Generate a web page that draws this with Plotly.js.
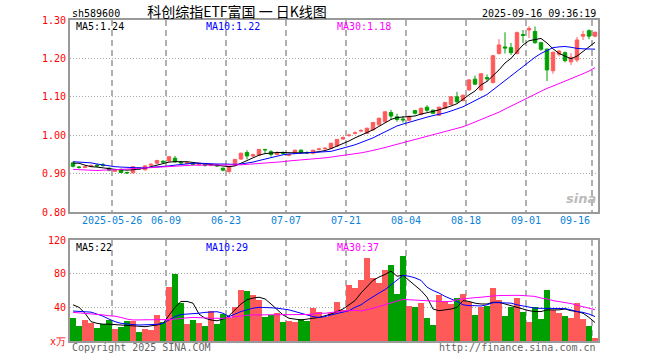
<!DOCTYPE html>
<html>
<head>
<meta charset="utf-8">
<script src="https://cdn.plot.ly/plotly-3.0.1.min.js"></script>
<style>
html,body{margin:0;padding:0;background:#fff;}
#chart{width:660px;height:360px;}
</style>
</head>
<body>
<div id="chart"></div>
<script>
const dates = [
'2025-05-15','2025-05-16','2025-05-19','2025-05-20','2025-05-21','2025-05-22','2025-05-23','2025-05-26','2025-05-27','2025-05-28','2025-05-29','2025-05-30',
'2025-06-03','2025-06-04','2025-06-05','2025-06-06','2025-06-09','2025-06-10','2025-06-11','2025-06-12','2025-06-13','2025-06-16','2025-06-17','2025-06-18','2025-06-19','2025-06-20','2025-06-23','2025-06-24','2025-06-25','2025-06-26','2025-06-27','2025-06-30',
'2025-07-01','2025-07-02','2025-07-03','2025-07-04','2025-07-07','2025-07-08','2025-07-09','2025-07-10','2025-07-11','2025-07-14','2025-07-15','2025-07-16','2025-07-17','2025-07-18','2025-07-21','2025-07-22','2025-07-23','2025-07-24','2025-07-25','2025-07-28','2025-07-29','2025-07-30','2025-07-31',
'2025-08-01','2025-08-04','2025-08-05','2025-08-06','2025-08-07','2025-08-08','2025-08-11','2025-08-12','2025-08-13','2025-08-14','2025-08-15','2025-08-18','2025-08-19','2025-08-20','2025-08-21','2025-08-22','2025-08-25','2025-08-26','2025-08-27','2025-08-28','2025-08-29',
'2025-09-01','2025-09-02','2025-09-03','2025-09-04','2025-09-05','2025-09-08','2025-09-09','2025-09-10','2025-09-11','2025-09-12','2025-09-15','2025-09-16'
];
const openP = [0.928,0.917,0.916,0.919,0.922,0.923,0.914,0.906,0.911,0.903,0.902,0.915,0.910,0.922,0.927,0.932,0.933,0.940,0.930,0.926,0.927,0.923,0.924,0.921,0.923,0.914,0.905,0.922,0.938,0.955,0.946,0.948,
0.963,0.957,0.950,0.954,0.948,0.953,0.961,0.955,0.953,0.963,0.965,0.966,0.972,0.990,0.999,1.005,1.011,1.005,1.014,1.027,1.035,1.059,1.048,
1.042,1.039,1.064,1.054,1.073,1.065,1.052,1.070,1.080,1.100,1.090,1.118,1.146,1.118,1.150,1.137,1.213,1.230,1.228,1.213,1.262,
1.274,1.270,1.241,1.224,1.168,1.211,1.215,1.191,1.196,1.258,1.272,1.258];
const highP = [0.931,0.920,0.921,0.924,0.925,0.928,0.916,0.910,0.913,0.905,0.919,0.917,0.922,0.927,0.936,0.935,0.945,0.946,0.931,0.930,0.929,0.927,0.926,0.925,0.925,0.916,0.919,0.938,0.955,0.961,0.952,0.964,
0.964,0.961,0.958,0.958,0.952,0.962,0.963,0.958,0.962,0.967,0.969,0.980,0.990,0.997,1.004,1.010,1.016,1.020,1.034,1.046,1.062,1.066,1.056,
1.050,1.051,1.066,1.072,1.078,1.067,1.074,1.087,1.101,1.113,1.106,1.146,1.155,1.162,1.158,1.209,1.250,1.268,1.240,1.270,1.274,
1.284,1.283,1.243,1.226,1.218,1.222,1.218,1.214,1.256,1.272,1.276,1.270];
const lowP = [0.916,0.913,0.914,0.917,0.917,0.918,0.906,0.904,0.901,0.899,0.900,0.910,0.908,0.920,0.925,0.928,0.931,0.928,0.925,0.924,0.921,0.921,0.918,0.919,0.917,0.906,0.903,0.920,0.936,0.937,0.942,0.946,
0.952,0.944,0.948,0.950,0.945,0.951,0.953,0.951,0.950,0.960,0.962,0.964,0.970,0.988,0.996,1.002,1.008,1.003,1.012,1.025,1.033,1.040,1.035,
1.033,1.036,1.054,1.052,1.060,1.055,1.050,1.068,1.078,1.083,1.088,1.116,1.131,1.115,1.140,1.135,1.210,1.213,1.209,1.210,1.240,
1.253,1.238,1.220,1.141,1.160,1.205,1.190,1.183,1.190,1.248,1.250,1.255];
const closeP = [0.919,0.916,0.918,0.921,0.920,0.921,0.909,0.908,0.903,0.902,0.918,0.912,0.920,0.924,0.934,0.930,0.944,0.931,0.928,0.928,0.924,0.925,0.922,0.923,0.920,0.909,0.918,0.937,0.953,0.946,0.949,0.963,
0.962,0.950,0.955,0.953,0.949,0.961,0.955,0.954,0.961,0.964,0.966,0.979,0.989,0.994,1.000,1.006,1.012,1.018,1.033,1.044,1.061,1.050,1.041,
1.040,1.049,1.057,1.070,1.065,1.057,1.073,1.085,1.100,1.087,1.104,1.144,1.133,1.160,1.147,1.207,1.235,1.227,1.215,1.267,1.260,
1.278,1.241,1.224,1.170,1.216,1.219,1.194,1.203,1.248,1.262,1.258,1.268];
const ma5 = [0.927,0.927,0.922,0.918,0.917,0.915,0.912,0.911,0.910,0.909,0.910,0.912,0.914,0.918,0.922,0.927,0.930,0.931,0.931,0.931,0.929,0.927,0.925,0.924,0.922,0.920,0.918,0.920,0.927,0.935,0.942,0.948,
0.952,0.954,0.955,0.955,0.954,0.954,0.954,0.954,0.955,0.957,0.960,0.965,0.971,0.977,0.985,0.993,1.000,1.006,1.014,1.023,1.032,1.041,1.046,
1.047,1.048,1.050,1.055,1.058,1.062,1.066,1.070,1.076,1.082,1.094,1.105,1.115,1.131,1.140,1.155,1.170,1.188,1.200,1.218,1.235,
1.246,1.250,1.252,1.240,1.225,1.213,1.205,1.199,1.206,1.219,1.230,1.242];
const ma10 = [0.931,0.930,0.929,0.928,0.925,0.922,0.919,0.918,0.917,0.916,0.915,0.915,0.915,0.916,0.917,0.918,0.920,0.922,0.924,0.926,0.927,0.927,0.926,0.926,0.925,0.925,0.924,0.924,0.925,0.927,0.930,0.934,
0.938,0.942,0.946,0.949,0.951,0.952,0.953,0.954,0.954,0.955,0.956,0.958,0.962,0.966,0.970,0.975,0.981,0.986,0.993,1.001,1.009,1.017,1.024,
1.029,1.034,1.039,1.043,1.047,1.051,1.054,1.058,1.063,1.068,1.074,1.082,1.090,1.098,1.106,1.118,1.130,1.143,1.156,1.168,1.180,
1.192,1.203,1.213,1.220,1.228,1.230,1.231,1.229,1.226,1.225,1.224,1.224];
const ma30 = [0.911,0.910,0.909,0.908,0.908,0.909,0.909,0.910,0.911,0.912,0.913,0.914,0.915,0.916,0.917,0.918,0.919,0.920,0.921,0.921,0.922,0.922,0.922,0.922,0.922,0.922,0.922,0.923,0.923,0.924,0.925,0.926,
0.927,0.929,0.930,0.931,0.933,0.934,0.935,0.936,0.938,0.939,0.941,0.943,0.945,0.947,0.949,0.951,0.954,0.957,0.960,0.964,0.968,0.972,0.976,
0.980,0.984,0.988,0.992,0.996,1.000,1.004,1.008,1.012,1.017,1.022,1.028,1.034,1.040,1.046,1.052,1.060,1.068,1.076,1.084,1.092,
1.100,1.108,1.116,1.122,1.128,1.134,1.140,1.146,1.153,1.160,1.167,1.176];
const volume = [27.7,17.8,25.3,21.8,15.8,19.8,25.3,14.7,17.0,24.1,24.1,11.0,14.7,13.5,30.9,23.0,64.5,80.0,45.5,20.6,25.3,21.8,17.8,35.6,20.6,32.5,27.7,40.8,61.0,59.4,55.0,49.0,
28.9,30.5,33.7,23.0,24.1,23.0,26.1,23.4,39.6,34.9,28.1,33.7,46.7,36.8,66.5,63.4,72.5,99.0,74.5,69.3,84.4,90.7,55.8,
101.4,41.6,40.4,45.1,27.3,19.0,54.7,47.5,44.0,51.1,55.8,46.7,30.9,40.8,41.6,63.0,48.3,29.7,40.4,51.1,34.5,
22.6,40.4,26.1,60.6,36.8,33.3,29.7,27.3,45.1,26.1,17.8,3.6];
const volMa5 = [43,40,33,23,21,20,20,19.5,19,18,18,17,17,18,19,21,31,40,47,47,45,32,27,25,24,26,30,37,44,49,51,52,
50,44,38,31,27,26,25,26,27,28,30,32,35,38,43,48,57,65,72,76,79,83,77,
78,72,66,60,52,38,36,37,38,40,48,47,45,44,44,46,46,44,42,40,38,
36,35,35,37,37,37,38,36,35,33,28,22];
const volMa10 = [35.6,35,34.5,34.3,32,29.5,26,23,21,20,19.5,19,19,19.5,19.8,21,25,29,31.5,32,32,33,34,34.8,34.8,33,29,32,35,37,39,40,
40,39.5,39,38,37,35,33,31,29,28,29,31,32.5,34,36,40,43,48,53,57,61,67,73,
78,77,75,72,64,60,57,53,50,47,43,42,42,41.6,43,45.5,45.5,45.5,45,43,41.6,
40,39,38.8,38.8,38.8,38.8,38.5,37,35,34,32,29];
const volMa30 = [34,33.5,33,32.5,32,31,30,29.5,28,26,25,25,25,25,25,25,25.5,26,27,27.5,28,28,27.5,27,27,27,28,29,30,30.5,31,31,
31,31,31,31,31,31,31,31.5,32,33,33,34,35,35.6,36,36.5,35.6,37,39,41,43,45,47,
49.5,49,48.5,48,47.9,47.5,47,46.7,47,49,50,51,51.5,52,53,53.5,54,54.3,54.3,54.3,54,
53.5,53,51,50,48,47,45.5,44.5,42.5,41,39.5,37.2];
const tickDates = ['2025-05-26','2025-06-09','2025-06-23','2025-07-07','2025-07-21','2025-08-04','2025-08-18','2025-09-01','2025-09-16'];
const tickLabels = ['2025-05-26','06-09','06-23','07-07','07-21','08-04','08-18','09-01','09-16'];
const priceTicks = [0.80,0.90,1.00,1.10,1.20,1.30];
const volTicks = [0,40,80,120];
const volTickLabels = ['x万','40','80','120'];
const chartTitle = '科创综指ETF富国 一 日K线图';
const code = 'sh589600';
const stamp = '2025-09-16 09:36:19';

const RED = '#ff5a5a', GREEN = '#00a000';
const MONO = '"DejaVu Sans Mono", "Liberation Mono", monospace';
const xIdx = dates.map((d, i) => i);
const tickPos = tickDates.map(d => dates.indexOf(d) - 0.5);
const n = dates.length;
const last = n - 1;
const volColors = closeP.map((c, i) => c >= openP[i] ? RED : GREEN);

const traces = [
  {type:'candlestick', x:xIdx, open:openP, high:highP, low:lowP, close:closeP, xaxis:'x', yaxis:'y',
   increasing:{line:{color:RED,width:1}, fillcolor:RED},
   decreasing:{line:{color:GREEN,width:1}, fillcolor:GREEN},
   whiskerwidth:0, hoverinfo:'skip', showlegend:false},
  {type:'scatter', mode:'lines', x:xIdx, y:ma5, line:{color:'#000000', width:1}, xaxis:'x', yaxis:'y', hoverinfo:'skip'},
  {type:'scatter', mode:'lines', x:xIdx, y:ma10, line:{color:'#0000ff', width:1}, xaxis:'x', yaxis:'y', hoverinfo:'skip'},
  {type:'scatter', mode:'lines', x:xIdx, y:ma30, line:{color:'#ff00ff', width:1}, xaxis:'x', yaxis:'y', hoverinfo:'skip'},
  {type:'bar', x:xIdx, y:volume, marker:{color:volColors, line:{width:0}}, width:0.84, xaxis:'x2', yaxis:'y2', hoverinfo:'skip'},
  {type:'scatter', mode:'lines', x:xIdx, y:volMa5, line:{color:'#000000', width:1}, xaxis:'x2', yaxis:'y2', hoverinfo:'skip'},
  {type:'scatter', mode:'lines', x:xIdx, y:volMa10, line:{color:'#0000ff', width:1}, xaxis:'x2', yaxis:'y2', hoverinfo:'skip'},
  {type:'scatter', mode:'lines', x:xIdx, y:volMa30, line:{color:'#ff00ff', width:1}, xaxis:'x2', yaxis:'y2', hoverinfo:'skip'}
];

const L = 70, R = 598, T = 20, B = 341;
const px = v => (v - L) / (R - L);
const py = v => (B - v) / (B - T);

const xCommon = {
  type:'linear', range:[-0.5, n - 0.5], tickvals:tickPos, showticklabels:false, ticks:'',
  showgrid:true, gridcolor:'#b0b0b0', gridwidth:1.5, griddash:'6px,4px', zeroline:false,
  showline:true, mirror:true, linecolor:'#999999', linewidth:2, fixedrange:true
};

const annotations = [];
const txt = (text, x, y, opts) => annotations.push(Object.assign({
  text:text, x:x, y:y, xref:'paper', yref:'paper', showarrow:false,
  xanchor:'left', yanchor:'middle', font:{family:MONO, size:10, color:'#000'}
}, opts || {}));

txt(code, px(70), py(13));
txt(stamp, px(598), py(13), {xanchor:'right'});
txt('MA5:' + ma5[last].toFixed(2), px(74), py(26));
txt('MA10:' + ma10[last].toFixed(2), px(204), py(26), {font:{family:MONO,size:10,color:'#0000ff'}});
txt('MA30:' + ma30[last].toFixed(2), px(335), py(26), {font:{family:MONO,size:10,color:'#ff00ff'}});
txt('MA5:' + Math.round(volMa5[last]), px(74), py(247));
txt('MA10:' + Math.round(volMa10[last]), px(204), py(247), {font:{family:MONO,size:10,color:'#0000ff'}});
txt('MA30:' + Math.round(volMa30[last]), px(335), py(247), {font:{family:MONO,size:10,color:'#ff00ff'}});
txt('Copyright 2025 SINA.COM', px(70), py(347), {font:{family:MONO,size:10,color:'#666'}});
txt('http://finance.sina.com.cn', px(598), py(347), {xanchor:'right', font:{family:MONO,size:10,color:'#666'}});
txt('<b><i>sina</i></b>', px(598), py(198), {xanchor:'right', font:{family:'DejaVu Sans, sans-serif',size:13,color:'#bbbbbb'}});
tickLabels.forEach((lab, k) => {
  annotations.push({text:lab, x:tickPos[k], y:py(220), xref:'x', yref:'paper', showarrow:false,
    xanchor: k === tickLabels.length - 1 ? 'right' : 'center', yanchor:'middle',
    font:{family:MONO, size:10, color:'#0a82d8'}});
});

const layout = {
  width:660, height:360,
  margin:{l:L, r:660 - R, t:T, b:360 - B, pad:0},
  paper_bgcolor:'#ffffff', plot_bgcolor:'#ffffff',
  showlegend:false, boxgap:0.18, bargap:0,
  title:{text:chartTitle, x:237/660, xanchor:'center', y:1 - 12/360, yanchor:'middle', xref:'container', yref:'container',
         font:{family:'"Noto Sans CJK SC", sans-serif', size:14, color:'#000'}},
  xaxis: Object.assign({}, xCommon, {anchor:'y', rangeslider:{visible:false}}),
  xaxis2: Object.assign({}, xCommon, {anchor:'y2', matches:'x'}),
  yaxis: {domain:[py(212), 1], range:[0.80, 1.30], tickvals:priceTicks, ticktext:priceTicks.map(v => v.toFixed(2)),
          tickfont:{family:MONO, size:10, color:'#ff0000'}, ticks:'', ticklen:0,
          showgrid:true, gridcolor:'#aaaaaa', gridwidth:1, griddash:'1px,2px', zeroline:false,
          showline:true, mirror:true, linecolor:'#999999', linewidth:2, fixedrange:true},
  yaxis2: {domain:[0, py(240)], range:[0, 120], tickvals:volTicks, ticktext:volTickLabels,
           tickfont:{family:MONO, size:10, color:'#ff0000'}, ticks:'',
           showgrid:true, gridcolor:'#aaaaaa', gridwidth:1, griddash:'1px,2px', zeroline:false,
           showline:true, mirror:true, linecolor:'#999999', linewidth:2, fixedrange:true},
  annotations: annotations
};

Plotly.newPlot('chart', traces, layout, {staticPlot:true, displayModeBar:false});
</script>
</body>
</html>
